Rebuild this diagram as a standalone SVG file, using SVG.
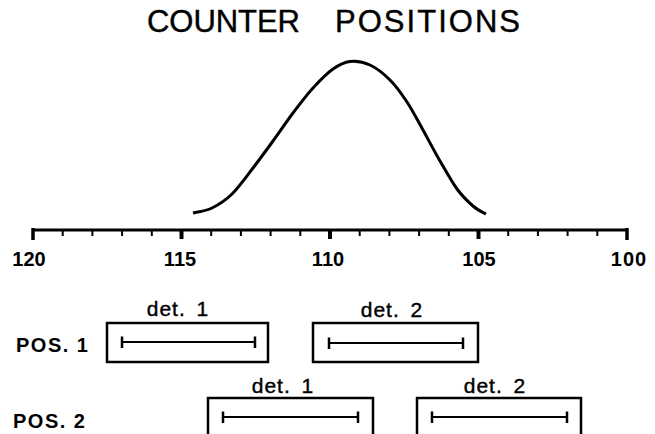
<svg xmlns="http://www.w3.org/2000/svg" width="655" height="434" viewBox="0 0 655 434">
<style>
  .ink { stroke: #000; fill: none; stroke-linecap: butt; }
  .title { font-family: "Liberation Sans", Arial, sans-serif; font-size: 31px; fill: #000; stroke: #000; stroke-width: 0.4; }
  .num { font-family: "Liberation Sans", Arial, sans-serif; font-size: 20px; font-weight: bold; fill: #000; text-anchor: middle; }
  .pos { font-family: "Liberation Sans", Arial, sans-serif; font-size: 20px; font-weight: bold; fill: #000; letter-spacing: 1.5px; }
  .det { font-family: "Liberation Sans", Arial, sans-serif; font-size: 21px; fill: #000; stroke: #000; stroke-width: 0.4; text-anchor: middle; letter-spacing: 1px; word-spacing: 4px; }
  .box { stroke: #000; stroke-width: 2.5; fill: none; }
  .bar { stroke: #000; stroke-width: 2; fill: none; }
  .cap { stroke: #000; stroke-width: 2.5; fill: none; }
</style>
<rect width="655" height="434" fill="#fff"/>

<g id="title">
  <text class="title" x="147" y="32" textLength="153" lengthAdjust="spacing">COUNTER</text>
  <text class="title" x="335" y="32" textLength="185" lengthAdjust="spacing">POSITIONS</text>
</g>

<g id="curve">
  <path class="ink" stroke-width="3" stroke-linejoin="round" d="M193,213 C196.2,212.2 205.5,211.2 212,208 C218.5,204.8 225.2,200.7 232,194 C238.8,187.3 246.2,176.8 253,168 C259.8,159.2 266.3,150.2 273,141 C279.7,131.8 286.3,121.8 293,113 C299.7,104.2 306.3,95.3 313,88 C319.7,80.7 326.8,73.4 333,69 C339.2,64.6 343.8,62.2 350,61.5 C356.2,60.8 363.3,61.9 370,65 C376.7,68.1 383.8,73.8 390,80 C396.2,86.2 401.5,93.7 407,102 C412.5,110.3 417.5,120.2 423,130 C428.5,139.8 434.3,151.2 440,161 C445.7,170.8 451.5,181.5 457,189 C462.5,196.5 468.2,201.8 473,206 C477.8,210.2 483.8,212.7 486,214"/>
</g>

<g id="axis">
  <line class="ink" stroke-width="3" x1="33" y1="230" x2="627" y2="230"/>
  <line class="ink" stroke-width="3.5" x1="33" y1="228" x2="33" y2="240"/>
  <line class="ink" stroke-width="3.5" x1="627" y1="228" x2="627" y2="240"/>
  <g class="ink" stroke-width="4">
    <line x1="181.5" y1="230" x2="181.5" y2="239"/>
    <line x1="330" y1="230" x2="330" y2="239"/>
    <line x1="478.5" y1="230" x2="478.5" y2="239"/>
  </g>
  <g class="ink" stroke-width="2">
    <line x1="62.7" y1="230" x2="62.7" y2="236"/>
    <line x1="92.4" y1="230" x2="92.4" y2="236"/>
    <line x1="122.1" y1="230" x2="122.1" y2="236"/>
    <line x1="151.8" y1="230" x2="151.8" y2="236"/>
    <line x1="211.2" y1="230" x2="211.2" y2="236"/>
    <line x1="240.9" y1="230" x2="240.9" y2="236"/>
    <line x1="270.6" y1="230" x2="270.6" y2="236"/>
    <line x1="300.3" y1="230" x2="300.3" y2="236"/>
    <line x1="359.7" y1="230" x2="359.7" y2="236"/>
    <line x1="389.4" y1="230" x2="389.4" y2="236"/>
    <line x1="419.1" y1="230" x2="419.1" y2="236"/>
    <line x1="448.8" y1="230" x2="448.8" y2="236"/>
    <line x1="508.2" y1="230" x2="508.2" y2="236"/>
    <line x1="537.9" y1="230" x2="537.9" y2="236"/>
    <line x1="567.6" y1="230" x2="567.6" y2="236"/>
    <line x1="597.3" y1="230" x2="597.3" y2="236"/>
  </g>
  <text class="num" x="29" y="266">120</text>
  <text class="num" x="180" y="266">115</text>
  <text class="num" x="328" y="266">110</text>
  <text class="num" x="479" y="266">105</text>
  <text class="num" x="629" y="266" letter-spacing="1">100</text>
</g>

<g id="pos1-label"><text class="pos" x="16" y="352">POS. 1</text></g>
<g id="pos2-label"><text class="pos" x="13" y="428">POS. 2</text></g>

<g id="pos1-det1">
  <text class="det" x="178" y="316">det. 1</text>
  <rect class="box" x="107" y="323" width="161" height="39"/>
  <line class="bar" x1="122" y1="342" x2="255" y2="342"/>
  <line class="cap" x1="122" y1="336.5" x2="122" y2="348"/>
  <line class="cap" x1="255" y1="336.5" x2="255" y2="348"/>
</g>

<g id="pos1-det2">
  <text class="det" x="392" y="317">det. 2</text>
  <rect class="box" x="313" y="323" width="165" height="39"/>
  <line class="bar" x1="329" y1="343" x2="463" y2="343"/>
  <line class="cap" x1="329" y1="337.5" x2="329" y2="349"/>
  <line class="cap" x1="463" y1="337.5" x2="463" y2="349"/>
</g>

<g id="pos2-det1">
  <text class="det" x="283" y="393">det. 1</text>
  <rect class="box" x="208" y="398" width="165" height="50"/>
  <line class="bar" x1="223" y1="417" x2="358" y2="417"/>
  <line class="cap" x1="223" y1="411.5" x2="223" y2="423"/>
  <line class="cap" x1="358" y1="411.5" x2="358" y2="423"/>
</g>

<g id="pos2-det2">
  <text class="det" x="495" y="393">det. 2</text>
  <rect class="box" x="417" y="398" width="164" height="50"/>
  <line class="bar" x1="432" y1="417" x2="567" y2="417"/>
  <line class="cap" x1="432" y1="411.5" x2="432" y2="423"/>
  <line class="cap" x1="567" y1="411.5" x2="567" y2="423"/>
</g>

<g id="connectors"></g>
</svg>
